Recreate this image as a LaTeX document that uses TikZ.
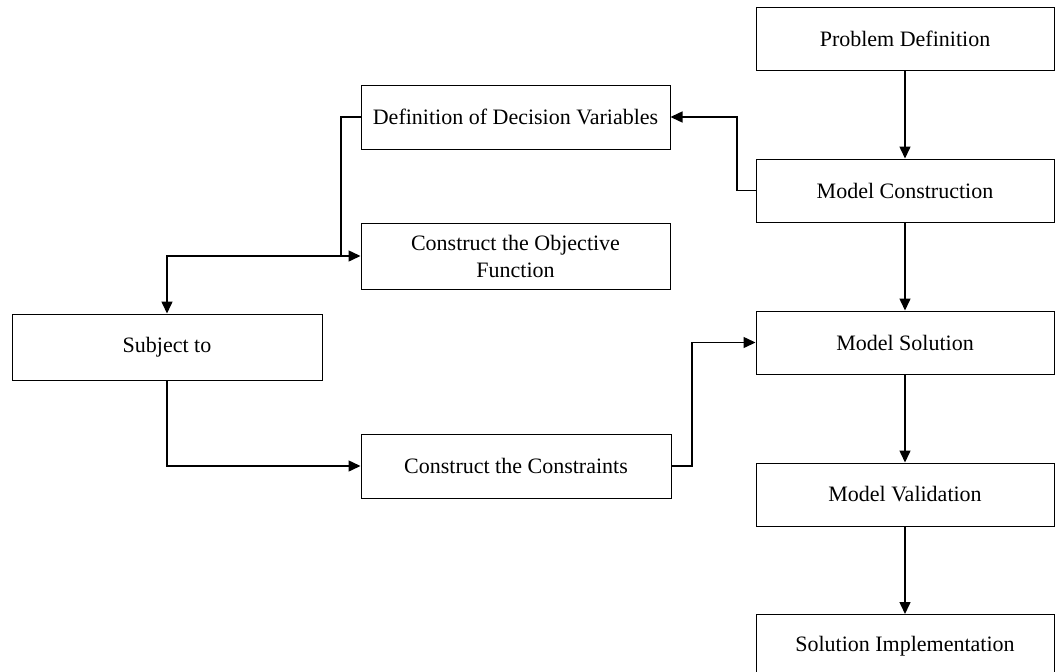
\documentclass[tikz,border=0pt]{standalone}
\usepackage{fontspec}
\setmainfont{Liberation Serif}
\usetikzlibrary{arrows.meta}
\begin{document}
\begin{tikzpicture}[x=1pt,y=-1pt,
  box/.style={draw=black, line width=1pt, inner sep=0pt, minimum width=#1, minimum height=63pt, align=center, font=\fontsize{22}{27}\selectfont},
  box/.default=298pt,
  conn/.style={draw=black, line width=1.5pt, -{Triangle[length=12pt,width=11pt]}},
  plain/.style={draw=black, line width=1.5pt}
]
\useasboundingbox (0,0) rectangle (1055,672);
% right column
\node[box] (pd) at (905,39) {Problem Definition};
\node[box] (mc) at (905,190.5) {Model Construction};
\node[box] (ms) at (905,342.5) {Model Solution};
\node[box] (mv) at (905,494.5) {Model Validation};
\node[box] (si) at (905,646) {Solution Implementation};
% left boxes
\node[box=309pt, minimum height=64pt] (dv) at (515.5,117) {Definition of Decision Variables};
\node[box=309pt, minimum height=66pt] (of) at (515.5,256) {Construct the Objective\\Function};
\node[box=310pt, minimum height=66pt] (st) at (167,347) {Subject to};
\node[box=310pt, minimum height=64pt] (cc) at (516,466) {Construct the Constraints};
% coordinates
\coordinate (j1) at (737,190.5);
\coordinate (j2) at (737,117);
\coordinate (j3) at (341,117);
\coordinate (j4) at (341,256);
\coordinate (j5) at (167,256);
\coordinate (j6) at (167,466);
\coordinate (j7) at (692,466);
\coordinate (j8) at (692,342.5);
% vertical flow
\draw[conn] (pd) -- (mc);
\draw[conn] (mc) -- (ms);
\draw[conn] (ms) -- (mv);
\draw[conn] (mv) -- (si);
% side flows
\draw[conn] (mc.west) -- (j1) -- (j2) -- (dv.east);
\draw[conn] (dv.west) -- (j3) -- (j4) -- (of.west);
\draw[conn] (j4) -- (j5) -- (st.north);
\draw[conn] (st.south) -- (j6) -- (cc.west);
\draw[conn] (cc.east) -- (j7) -- (j8) -- (ms.west);
\end{tikzpicture}
\end{document}
